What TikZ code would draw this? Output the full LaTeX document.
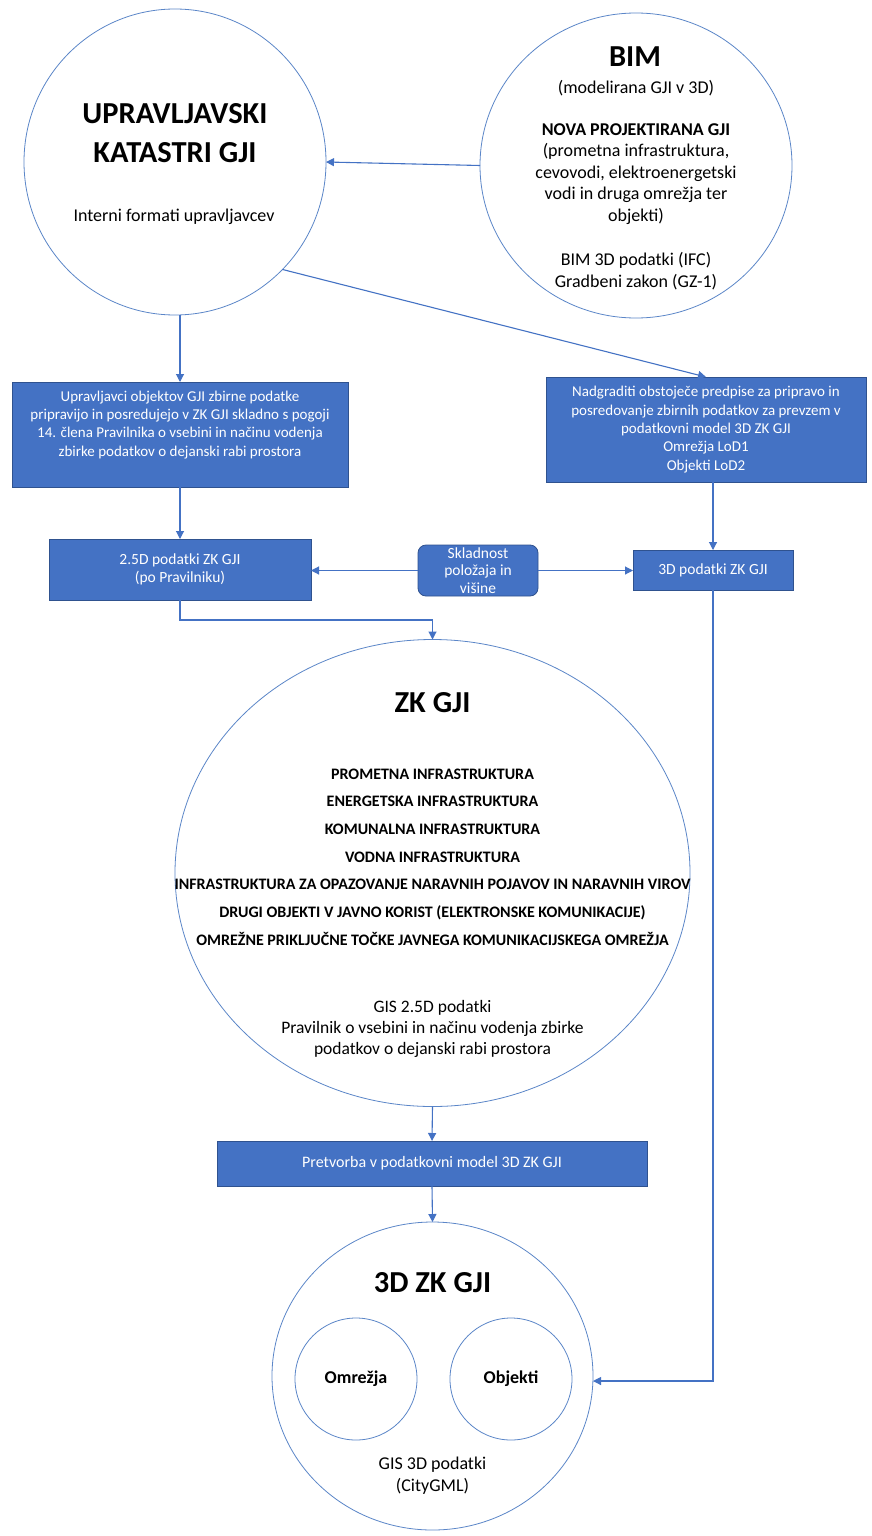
\documentclass[tikz,border=0pt]{standalone}
\usepackage{fontspec}
\setmainfont{Carlito}
\usetikzlibrary{shapes.geometric,arrows.meta}
\definecolor{officeblue}{HTML}{4472C4}
\definecolor{boxedge}{HTML}{2F528F}
\definecolor{ringblue}{HTML}{5B86C8}
\begin{document}
\begin{tikzpicture}[x=1pt,y=-1pt,
  ring/.style={draw=ringblue, line width=0.8pt, ellipse, inner sep=0pt, outer sep=0pt},
  bluebox/.style={draw=boxedge, fill=officeblue, line width=0.8pt, text=white,
    inner sep=0pt, outer sep=0pt, align=center},
  boxtext/.style={font=\fontsize{15}{18.3}\selectfont},
  smalltext/.style={font=\fontsize{15.5}{18}\selectfont},
  conn/.style={draw=officeblue, line width=1.1pt, -{Triangle[length=8pt,width=8pt]}},
  title/.style={font=\fontsize{30.5}{39}\selectfont\bfseries, align=center},
  body/.style={font=\fontsize{18}{21.5}\selectfont, align=center},
  caps/.style={font=\fontsize{16}{27.7}\selectfont\bfseries, align=center},
]
\useasboundingbox[fill=white] (0,0) rectangle (871,1536);

% circles
\node[ring, minimum width=302pt, minimum height=306pt] (upr) at (175,162) {};
\node[ring, minimum width=312pt, minimum height=305pt] (bim) at (636,165.5) {};
\node[ring, minimum width=515pt, minimum height=467pt] (zk) at (432.5,873) {};
\node[ring, minimum width=321pt, minimum height=308pt] (zkd) at (432.5,1376) {};
\node[ring, minimum width=122pt, minimum height=122pt] (omr) at (356,1379) {};
\node[ring, minimum width=122pt, minimum height=122pt] (obj) at (511,1379) {};

% texts inside the circles
\node[title] (uprT) at (175,133) {UPRAVLJAVSKI\\KATASTRI GJI};
\node[body] (uprB) at (174,217) {Interni formati upravljavcev};

\node[title] (bimT) at (635,57) {BIM};
\node[body] (bimA) at (636,88) {(modelirana GJI v 3D)};
\node[body] (bimB) at (636,174) {\textbf{NOVA PROJEKTIRANA GJI}\\(prometna infrastruktura,\\cevovodi, elektroenergetski\\vodi in druga omrežja ter\\objekti)};
\node[body, font=\fontsize{18}{22}\selectfont] (bimC) at (636,271) {BIM 3D podatki (IFC)\\Gradbeni zakon (GZ-1)};

\node[title] (zkT) at (432.5,703) {ZK GJI};
\node[caps] (zkL) at (432.5,857) {PROMETNA INFRASTRUKTURA\\ENERGETSKA INFRASTRUKTURA\\KOMUNALNA INFRASTRUKTURA\\VODNA INFRASTRUKTURA\\INFRASTRUKTURA ZA OPAZOVANJE NARAVNIH POJAVOV IN NARAVNIH VIROV\\DRUGI OBJEKTI V JAVNO KORIST (ELEKTRONSKE KOMUNIKACIJE)\\OMREŽNE PRIKLJUČNE TOČKE JAVNEGA KOMUNIKACIJSKEGA OMREŽJA};
\node[body, font=\fontsize{17.5}{21}\selectfont] (zkG) at (432.5,1029) {GIS 2.5D podatki\\Pravilnik o vsebini in načinu vodenja zbirke\\podatkov o dejanski rabi prostora};

\node[title] (zkdT) at (432.5,1283) {3D ZK GJI};
\node[body, font=\fontsize{18}{20}\selectfont\bfseries] (omrT) at (omr) {Omrežja};
\node[body, font=\fontsize{18}{20}\selectfont\bfseries] (objT) at (obj) {Objekti};
\node[body, font=\fontsize{18}{22}\selectfont] (zkdG) at (432.5,1476) {GIS 3D podatki\\(CityGML)};

% blue process boxes
\node[bluebox, boxtext, minimum width=336pt, minimum height=105pt] (upb) at (180,434.5)
  {Upravljavci objektov GJI zbirne podatke\\pripravijo in posredujejo v ZK GJI skladno s pogoji\\14. člena Pravilnika o vsebini in načinu vodenja\\zbirke podatkov o dejanski rabi prostora\\[4pt]};
\node[bluebox, font=\fontsize{15}{18.3}\selectfont, minimum width=320pt, minimum height=105pt] (nad) at (706,429.5)
  {Nadgraditi obstoječe predpise za pripravo in\\posredovanje zbirnih podatkov za prevzem v\\podatkovni model 3D ZK GJI\\Omrežja LoD1\\Objekti LoD2};
\node[bluebox, smalltext, minimum width=262pt, minimum height=61pt] (b25) at (180,569.5)
  {2.5D podatki ZK GJI\\(po Pravilniku)};
\node[bluebox, smalltext, minimum width=160pt, minimum height=40pt] (b3d) at (713,570)
  {3D podatki ZK GJI};
\node[bluebox, font=\fontsize{15.5}{17.5}\selectfont, rounded corners=8pt,
  minimum width=120pt, minimum height=51pt] (skl) at (478,570.5)
  {Skladnost\\položaja in\\višine};
\node[bluebox, font=\fontsize{16}{18}\selectfont, minimum width=430pt, minimum height=45pt] (pre) at (432,1163.5)
  {Pretvorba v podatkovni model 3D ZK GJI};

% connectors
\draw[conn] (bim.west) -- (upr.east);
\draw[conn] (upr.-45) -- (nad.north);
\draw[conn] (upb.north |- upr.south) -- (upb.north);
\draw[conn] (upb.south) -- (b25.north);
\draw[conn] (skl.west) -- (b25.east |- skl.west);
\draw[conn] (skl.east) -- (b3d.west |- skl.east);
\draw[conn] (b3d.north |- nad.south) -- (b3d.north);
\draw[conn] (b25.south) -- ++(0,20) -| (zk.north);
\draw[conn] (zk.south) -- (pre.north);
\draw[conn] (pre.south) -- (zkd.north);
\draw[conn] (b3d.south) |- ([yshift=-5pt]zkd.east);
\end{tikzpicture}
\end{document}
